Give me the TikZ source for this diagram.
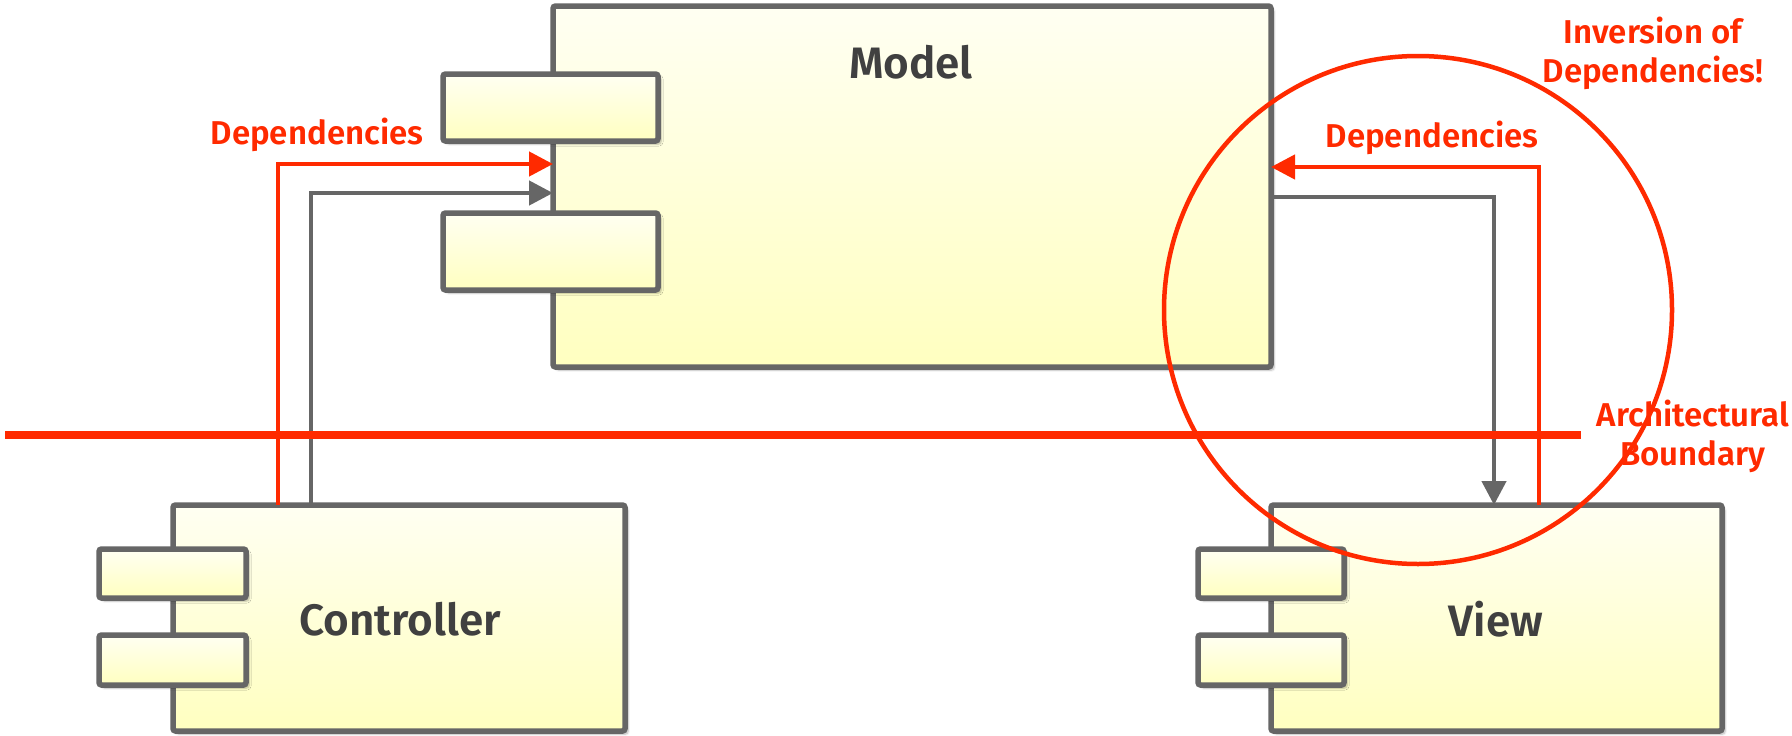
\documentclass[tikz,border=0pt]{standalone}
\usepackage{fontspec}
\setmainfont{Fira Sans}[BoldFont={Fira Sans SemiBold}]
\usetikzlibrary{arrows.meta,shadows.blur}
\definecolor{edge}{HTML}{666666}
\definecolor{alert}{HTML}{FF2A00}
\definecolor{ink}{HTML}{404040}
\definecolor{paleTop}{HTML}{FFFFF2}
\definecolor{paleBot}{HTML}{FFFFC0}
\tikzset{
  comp/.style={draw=edge, line width=5.5pt, rounded corners=2.5pt,
    top color=paleTop, bottom color=paleBot, inner sep=0pt, outer sep=0pt,
    blur shadow={shadow xshift=3pt, shadow yshift=-3pt, shadow blur steps=6, shadow opacity=30}},
  port/.style={comp},
  title/.style={text=ink, font=\bfseries\fontsize{44}{46}\selectfont},
  note/.style={text=alert, font=\bfseries\fontsize{33}{39}\selectfont, align=center},
  greydep/.style={draw=edge, line width=4.5pt, -{Triangle[length=24pt,width=24pt]}},
  reddep/.style={draw=alert, line width=4.5pt, -{Triangle[length=24pt,width=24pt]}},
}
\begin{document}
\begin{tikzpicture}[x=1pt,y=-1pt]
\useasboundingbox (0,0) rectangle (1792,736);

% components
\node[comp, minimum width=718pt, minimum height=361pt] (model) at (912,186.5) {};
\node[port, minimum width=215pt, minimum height=67pt] (mp1) at (550.5,107.5) {};
\node[port, minimum width=215pt, minimum height=77pt] (mp2) at (550.5,251.5) {};
\node[title] (modelT) at (911,62) {Model};

\node[comp, minimum width=452pt, minimum height=226pt] (ctrl) at (399,618) {};
\node[port, minimum width=147pt, minimum height=49pt] (cp1) at (172.5,573.5) {};
\node[port, minimum width=147pt, minimum height=50pt] (cp2) at (172.5,660) {};
\node[title] (ctrlT) at (400,619) {Controller};

\node[comp, minimum width=451pt, minimum height=226pt] (view) at (1496.5,618) {};
\node[port, minimum width=146pt, minimum height=49pt] (vp1) at (1271,573.5) {};
\node[port, minimum width=146pt, minimum height=50pt] (vp2) at (1271,660) {};
\node[title] (viewT) at (1496,619) {View};

% dependencies from the controller into the model
\draw[reddep] ([xshift=-121pt]ctrl.north) |- ([yshift=22.5pt]model.west);
\draw[greydep] ([xshift=-88pt]ctrl.north) |- ([yshift=-6.5pt]model.west);
\node[note] (depL) at (317,135) {Dependencies};

% dependencies between the model and the view
\draw[greydep] ([yshift=-10.5pt]model.east) -| ([xshift=-2.5pt]view.north);
\draw[reddep] ([xshift=42.5pt]view.north) |- ([yshift=19.5pt]model.east);
\node[note] (depR) at (1432,138) {Dependencies};

% architectural boundary
\coordinate (bL) at (5,435);
\coordinate (bR) at (1581,435);
\draw[alert, line width=8pt] (bL) -- (bR);
\node[note] (boundT) at (1693,436) {Architectural\\Boundary};

% inversion highlight
\node[draw=alert, line width=4.5pt, circle, minimum size=508pt, inner sep=0pt] (ring) at (1418,310) {};
\node[note] (invT) at (1653,53) {Inversion of\\Dependencies!};
\end{tikzpicture}
\end{document}
